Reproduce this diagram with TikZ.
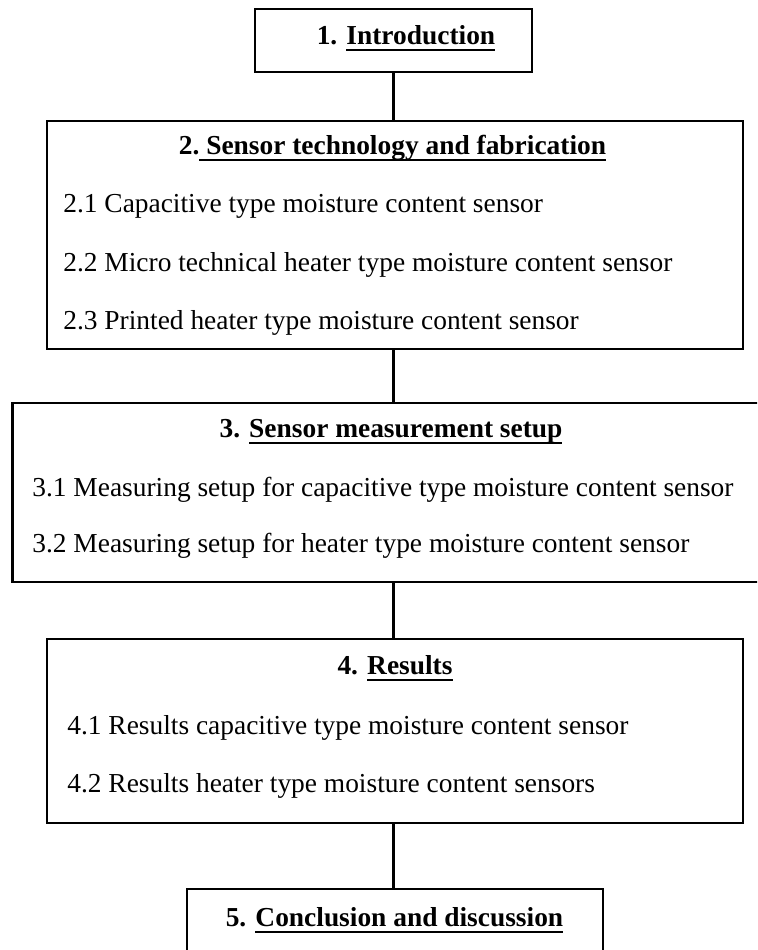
\documentclass[tikz,border=0pt]{standalone}
\usepackage{fontspec}
\setmainfont{Liberation Serif}
\usetikzlibrary{positioning}
\tikzset{every text node part/.style={align=left}}
\tikzset{box/.style = {draw=black, line width=1.3pt, rectangle, inner sep=0pt, outer sep=0pt}}
\tikzset{head/.style = {anchor=base, inner sep=0pt, font=\fontsize{15.6}{18}\selectfont\bfseries}}
\tikzset{item/.style = {anchor=base west, inner sep=0pt, font=\fontsize{15.6}{18}\selectfont}}
\tikzset{link/.style = {line width=1.3pt}}
\newsavebox{\headbox}
\newcommand{\lineunder}[1]{\sbox{\headbox}{#1}\rlap{\rule[-3.4pt]{\wd\headbox}{1.1pt}}\usebox{\headbox}}

\begin{document}
\begin{tikzpicture}[line cap=rect, line join=miter]
		% Frame
		\useasboundingbox (0,0) rectangle (15.14,19);
		\clip (0,0) rectangle (15.14,19);
		
		% Boxes
		\node[box, minimum width=5.54cm, minimum height=1.26cm] (intro) at (7.87,18.19) {};
		\node[box, minimum width=13.92cm, minimum height=4.56cm] (sensor) at (7.90,14.30) {};
		\node[box, minimum width=15.35cm, minimum height=3.58cm] (setup) at (7.925,9.15) {};
		\node[box, minimum width=13.92cm, minimum height=3.68cm] (results) at (7.90,4.38) {};
		\node[box, minimum width=8.32cm, minimum height=1.72cm] (concl) at (7.90,0.36) {};
		
		% Links
		\draw[link] (intro.south) -- (intro.south |- sensor.north);
		\draw[link] (intro.south |- sensor.south) -- (intro.south |- setup.north);
		\draw[link] (intro.south |- setup.south) -- (intro.south |- results.north);
		\draw[link] (intro.south |- results.south) -- (intro.south |- concl.north);
		
		% Headings
		\node[head] (h1) at (8.12,18.10) {1. \lineunder{Introduction}};
		\node[head] (h2) at (7.85,15.90) {2.\lineunder{ Sensor technology and fabrication}};
		\node[head] (h3) at (7.82,10.24) {3. \lineunder{Sensor measurement setup}};
		\node[head] (h4) at (7.90,5.50) {4. \lineunder{Results}};
		\node[head] (h5) at (7.89,0.46) {5. \lineunder{Conclusion and discussion}};
		
		% Items
		\node[item] (s21) at (1.26,14.74) {2.1 Capacitive type moisture content sensor};
		\node[item] (s22) at (1.26,13.56) {2.2 Micro technical heater type moisture content sensor};
		\node[item] (s23) at (1.26,12.40) {2.3 Printed heater type moisture content sensor};
		%
		\node[item] (s31) at (0.64,9.06) {3.1 Measuring setup for capacitive type moisture content sensor};
		\node[item] (s32) at (0.64,7.94) {3.2 Measuring setup for heater type moisture content sensor};
		%
		\node[item] (s41) at (1.34,4.30) {4.1 Results capacitive type moisture content sensor};
		\node[item] (s42) at (1.34,3.14) {4.2 Results heater type moisture content sensors};
\end{tikzpicture}
\end{document}
